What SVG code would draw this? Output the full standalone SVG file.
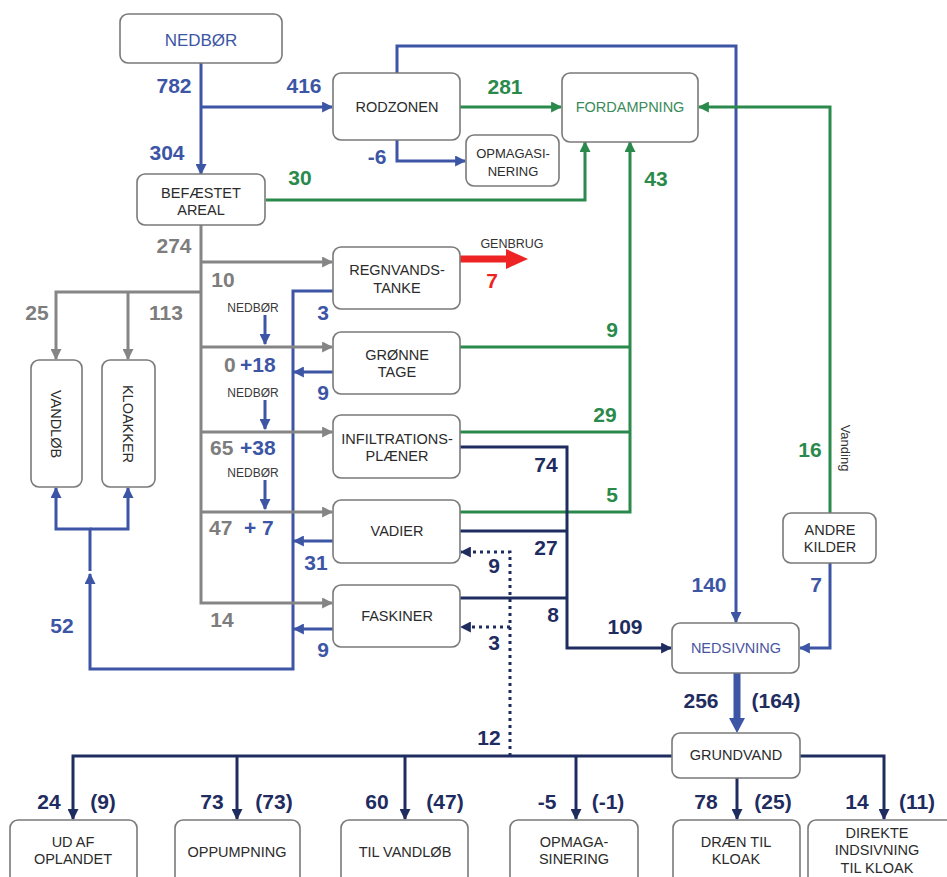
<svg xmlns="http://www.w3.org/2000/svg" width="947" height="877" viewBox="0 0 947 877">
<style>
.box{fill:#fff;stroke:#7a7a7a;stroke-width:1.6}
.t{font-family:"Liberation Sans",Arial,sans-serif;font-size:14.5px;fill:#2b2b2b;text-anchor:middle}
.s{font-family:"Liberation Sans",Arial,sans-serif;font-size:12px;fill:#3a3a3a;text-anchor:middle}
.n{font-family:"Liberation Sans",Arial,sans-serif;font-size:21px;font-weight:bold}
.bl{fill:#3d55a5}.nv{fill:#1f2c5f}.gr{fill:#2a8a4c}.gy{fill:#7d7d7d}.rd{fill:#ee2424}
.lb{fill:none;stroke:#3d55a5;stroke-width:3}
.ln{fill:none;stroke:#1f2c5f;stroke-width:3}
.lg{fill:none;stroke:#2a8a4c;stroke-width:3}
.ly{fill:none;stroke:#858585;stroke-width:3}
.ld{fill:none;stroke:#1f2c5f;stroke-width:3;stroke-dasharray:3 4}
.thick{stroke-width:7}
</style>
<defs>
<marker id="ab" viewBox="0 0 10 10" refX="9" refY="5" markerWidth="11" markerHeight="11" markerUnits="userSpaceOnUse" orient="auto"><path d="M0,0L10,5L0,10z" fill="#3d55a5"/></marker>
<marker id="an" viewBox="0 0 10 10" refX="9" refY="5" markerWidth="11" markerHeight="11" markerUnits="userSpaceOnUse" orient="auto"><path d="M0,0L10,5L0,10z" fill="#1f2c5f"/></marker>
<marker id="ag" viewBox="0 0 10 10" refX="9" refY="5" markerWidth="11" markerHeight="11" markerUnits="userSpaceOnUse" orient="auto"><path d="M0,0L10,5L0,10z" fill="#2a8a4c"/></marker>
<marker id="ay" viewBox="0 0 10 10" refX="9" refY="5" markerWidth="11" markerHeight="11" markerUnits="userSpaceOnUse" orient="auto"><path d="M0,0L10,5L0,10z" fill="#858585"/></marker>
<marker id="abig" viewBox="0 0 10 10" refX="9" refY="5" markerWidth="15" markerHeight="15" markerUnits="userSpaceOnUse" orient="auto"><path d="M0,0L10,5L0,10z" fill="#3d55a5"/></marker>
</defs>
<rect width="947" height="877" fill="#fff"/>

<g id="connectors">
<path class="lb" d="M201,63V174" marker-end="url(#ab)"/>
<path class="lb" d="M201,107H332" marker-end="url(#ab)"/>
<path class="lb" d="M397,73V46H736V622" marker-end="url(#ab)"/>
<path class="lb" d="M397,140V161H465" marker-end="url(#ab)"/>
<path class="lb" d="M830,563V648H800" marker-end="url(#ab)"/>
<path class="lb" d="M333,291H293V669H90V574" marker-end="url(#ab)"/>
<path class="lb" d="M90,571V529H56V488" marker-end="url(#ab)"/>
<path class="lb" d="M90,529H128V488" marker-end="url(#ab)"/>
<path class="lb" d="M333,372H294" marker-end="url(#ab)"/>
<path class="lb" d="M333,541H294" marker-end="url(#ab)"/>
<path class="lb" d="M333,629H294" marker-end="url(#ab)"/>
<path class="lb" d="M265,315V344" marker-end="url(#ab)"/>
<path class="lb" d="M265,400V429" marker-end="url(#ab)"/>
<path class="lb" d="M265,480V509" marker-end="url(#ab)"/>
<path class="lb thick" d="M737,673V720"/>
<path d="M729,718L745,718L737,733z" fill="#3d55a5"/>
<path class="lg" d="M460,107H561" marker-end="url(#ag)"/>
<path class="lg" d="M266,200H585V142" marker-end="url(#ag)"/>
<path class="lg" d="M460,512H630V142" marker-end="url(#ag)"/>
<path class="lg" d="M460,347H630"/>
<path class="lg" d="M460,432H630"/>
<path class="lg" d="M830,513V107H699" marker-end="url(#ag)"/>
<path class="ln" d="M460,447H567V648H671" marker-end="url(#an)"/>
<path class="ln" d="M460,531H567"/>
<path class="ln" d="M460,598H567"/>
<path class="ln" d="M672,756H73V819" marker-end="url(#an)"/>
<path class="ln" d="M237,756V819" marker-end="url(#an)"/>
<path class="ln" d="M405,756V819" marker-end="url(#an)"/>
<path class="ln" d="M576,756V819" marker-end="url(#an)"/>
<path class="ln" d="M737,778V819" marker-end="url(#an)"/>
<path class="ln" d="M800,756H884V819" marker-end="url(#an)"/>
<path class="ld" d="M510,756V552H461" marker-end="url(#an)"/>
<path class="ld" d="M510,627H461" marker-end="url(#an)"/>
<path class="ly" d="M201,225V603H332" marker-end="url(#ay)"/>
<path class="ly" d="M201,262H332" marker-end="url(#ay)"/>
<path class="ly" d="M201,292H56V359" marker-end="url(#ay)"/>
<path class="ly" d="M128,292V359" marker-end="url(#ay)"/>
<path class="ly" d="M201,347H332" marker-end="url(#ay)"/>
<path class="ly" d="M201,432H332" marker-end="url(#ay)"/>
<path class="ly" d="M201,512H332" marker-end="url(#ay)"/>
<path d="M460,259H508" stroke="#ee2424" stroke-width="7" fill="none"/>
<path d="M506,249L528,259L506,269z" fill="#ee2424"/>
</g>

<g id="labels">
<text class="n bl" x="174" y="93" text-anchor="middle">782</text>
<text class="n bl" x="304" y="93" text-anchor="middle">416</text>
<text class="n bl" x="167" y="160" text-anchor="middle">304</text>
<text class="n gr" x="300" y="185" text-anchor="middle">30</text>
<text class="n gr" x="505" y="94" text-anchor="middle">281</text>
<text class="n bl" x="377" y="164" text-anchor="middle">-6</text>
<text class="n gr" x="656" y="186" text-anchor="middle">43</text>
<text class="n gy" x="174" y="253" text-anchor="middle">274</text>
<text class="n gy" x="223" y="287" text-anchor="middle">10</text>
<text class="n gy" x="37" y="320" text-anchor="middle">25</text>
<text class="n gy" x="166" y="320" text-anchor="middle">113</text>
<text class="s" x="253" y="312">NEDBØR</text>
<text class="s" x="253" y="397">NEDBØR</text>
<text class="s" x="253" y="477">NEDBØR</text>
<text class="n gy" x="224" y="372">0</text>
<text class="n bl" x="240" y="372">+18</text>
<text class="n gy" x="210" y="455">65</text>
<text class="n bl" x="240" y="455">+38</text>
<text class="n gy" x="209" y="535">47</text>
<text class="n bl" x="244" y="535">+ 7</text>
<text class="n gy" x="222" y="627" text-anchor="middle">14</text>
<text class="n bl" x="323" y="320" text-anchor="middle">3</text>
<text class="n bl" x="323" y="400" text-anchor="middle">9</text>
<text class="n bl" x="316" y="570" text-anchor="middle">31</text>
<text class="n bl" x="323" y="657" text-anchor="middle">9</text>
<text class="n bl" x="62" y="633" text-anchor="middle">52</text>
<text class="n gr" x="612" y="337" text-anchor="middle">9</text>
<text class="n gr" x="605" y="422" text-anchor="middle">29</text>
<text class="n gr" x="612" y="502" text-anchor="middle">5</text>
<text class="n nv" x="546" y="472" text-anchor="middle">74</text>
<text class="n nv" x="546" y="555" text-anchor="middle">27</text>
<text class="n nv" x="553" y="622" text-anchor="middle">8</text>
<text class="n nv" x="494" y="573" text-anchor="middle">9</text>
<text class="n nv" x="494" y="650" text-anchor="middle">3</text>
<text class="n nv" x="625" y="634" text-anchor="middle">109</text>
<text class="n bl" x="709" y="592" text-anchor="middle">140</text>
<text class="n bl" x="816" y="592" text-anchor="middle">7</text>
<text class="n gr" x="810" y="457" text-anchor="middle">16</text>
<text class="s" transform="translate(841,448) rotate(90)" style="font-size:13px;fill:#333">Vanding</text>
<text class="n nv" x="701" y="708" text-anchor="middle">256</text>
<text class="n nv" x="776" y="708" text-anchor="middle">(164)</text>
<text class="n nv" x="489" y="745" text-anchor="middle">12</text>
<text class="n nv" x="49" y="809" text-anchor="middle">24</text>
<text class="n nv" x="103" y="809" text-anchor="middle">(9)</text>
<text class="n nv" x="212" y="809" text-anchor="middle">73</text>
<text class="n nv" x="274" y="809" text-anchor="middle">(73)</text>
<text class="n nv" x="377" y="809" text-anchor="middle">60</text>
<text class="n nv" x="445" y="809" text-anchor="middle">(47)</text>
<text class="n nv" x="547" y="809" text-anchor="middle">-5</text>
<text class="n nv" x="608" y="809" text-anchor="middle">(-1)</text>
<text class="n nv" x="706" y="809" text-anchor="middle">78</text>
<text class="n nv" x="773" y="809" text-anchor="middle">(25)</text>
<text class="n nv" x="857" y="809" text-anchor="middle">14</text>
<text class="n nv" x="917" y="809" text-anchor="middle">(11)</text>
<text class="s" x="512" y="248" style="fill:#333;font-size:12.5px">GENBRUG</text>
<text class="n rd" x="492" y="288" text-anchor="middle">7</text>
</g>

<g id="nedbor"><rect class="box" x="120" y="14" width="162" height="49" rx="8"/><text class="t" x="201" y="46" style="fill:#3d55a5;font-size:17px">NEDBØR</text></g>
<g id="rodzonen"><rect class="box" x="333" y="73" width="127" height="67" rx="8"/><text class="t" x="397" y="112">RODZONEN</text></g>
<g id="opmagasinering1"><rect class="box" x="466" y="135" width="93" height="51" rx="8"/><text class="t" x="513" y="158" style="font-size:13px">OPMAGASI-</text><text class="t" x="513" y="176" style="font-size:13px">NERING</text></g>
<g id="fordampning"><rect class="box" x="562" y="73" width="136" height="69" rx="8"/><text class="t" x="630" y="112" style="fill:#3a8a5a">FORDAMPNING</text></g>
<g id="befaestet"><rect class="box" x="137" y="174" width="128" height="51" rx="8"/><text class="t" x="201" y="198">BEFÆSTET</text><text class="t" x="201" y="215">AREAL</text></g>
<g id="regnvandstanke"><rect class="box" x="333" y="247" width="127" height="62" rx="8"/><text class="t" x="397" y="275">REGNVANDS-</text><text class="t" x="397" y="293">TANKE</text></g>
<g id="gronnetage"><rect class="box" x="333" y="332" width="127" height="62" rx="8"/><text class="t" x="397" y="360">GRØNNE</text><text class="t" x="397" y="377">TAGE</text></g>
<g id="infiltration"><rect class="box" x="333" y="415" width="127" height="63" rx="8"/><text class="t" x="397" y="444">INFILTRATIONS-</text><text class="t" x="397" y="461">PLÆNER</text></g>
<g id="vadier"><rect class="box" x="333" y="500" width="127" height="63" rx="8"/><text class="t" x="397" y="536">VADIER</text></g>
<g id="faskiner"><rect class="box" x="333" y="585" width="127" height="62" rx="8"/><text class="t" x="397" y="621">FASKINER</text></g>
<g id="vandlob"><rect class="box" x="31" y="360" width="51" height="127" rx="8"/><text class="t" transform="translate(51,424) rotate(90)">VANDLØB</text></g>
<g id="kloakker"><rect class="box" x="102" y="360" width="53" height="127" rx="8"/><text class="t" transform="translate(123,424) rotate(90)">KLOAKKER</text></g>
<g id="andrekilder"><rect class="box" x="783" y="513" width="93" height="50" rx="8"/><text class="t" x="830" y="535">ANDRE</text><text class="t" x="830" y="552">KILDER</text></g>
<g id="nedsivning"><rect class="box" x="672" y="623" width="127" height="50" rx="8"/><text class="t" x="736" y="653" style="fill:#4a55a0">NEDSIVNING</text></g>
<g id="grundvand"><rect class="box" x="672" y="733" width="128" height="45" rx="8"/><text class="t" x="736" y="760">GRUNDVAND</text></g>
<g id="udafoplandet"><rect class="box" x="10" y="820" width="127" height="70" rx="8"/><text class="t" x="73" y="847">UD AF</text><text class="t" x="73" y="864">OPLANDET</text></g>
<g id="oppumpning"><rect class="box" x="175" y="820" width="125" height="70" rx="8"/><text class="t" x="237" y="857">OPPUMPNING</text></g>
<g id="tilvandlob"><rect class="box" x="341" y="820" width="127" height="70" rx="8"/><text class="t" x="405" y="857">TIL VANDLØB</text></g>
<g id="opmagasinering2"><rect class="box" x="510" y="820" width="128" height="70" rx="8"/><text class="t" x="574" y="847">OPMAGA-</text><text class="t" x="574" y="864">SINERING</text></g>
<g id="draen"><rect class="box" x="673" y="820" width="127" height="70" rx="8"/><text class="t" x="736" y="847">DRÆN TIL</text><text class="t" x="736" y="864">KLOAK</text></g>
<g id="direkte"><rect class="box" x="808" y="820" width="150" height="70" rx="8"/><text class="t" x="877" y="838">DIREKTE</text><text class="t" x="877" y="855">INDSIVNING</text><text class="t" x="877" y="873">TIL KLOAK</text></g>
</svg>
